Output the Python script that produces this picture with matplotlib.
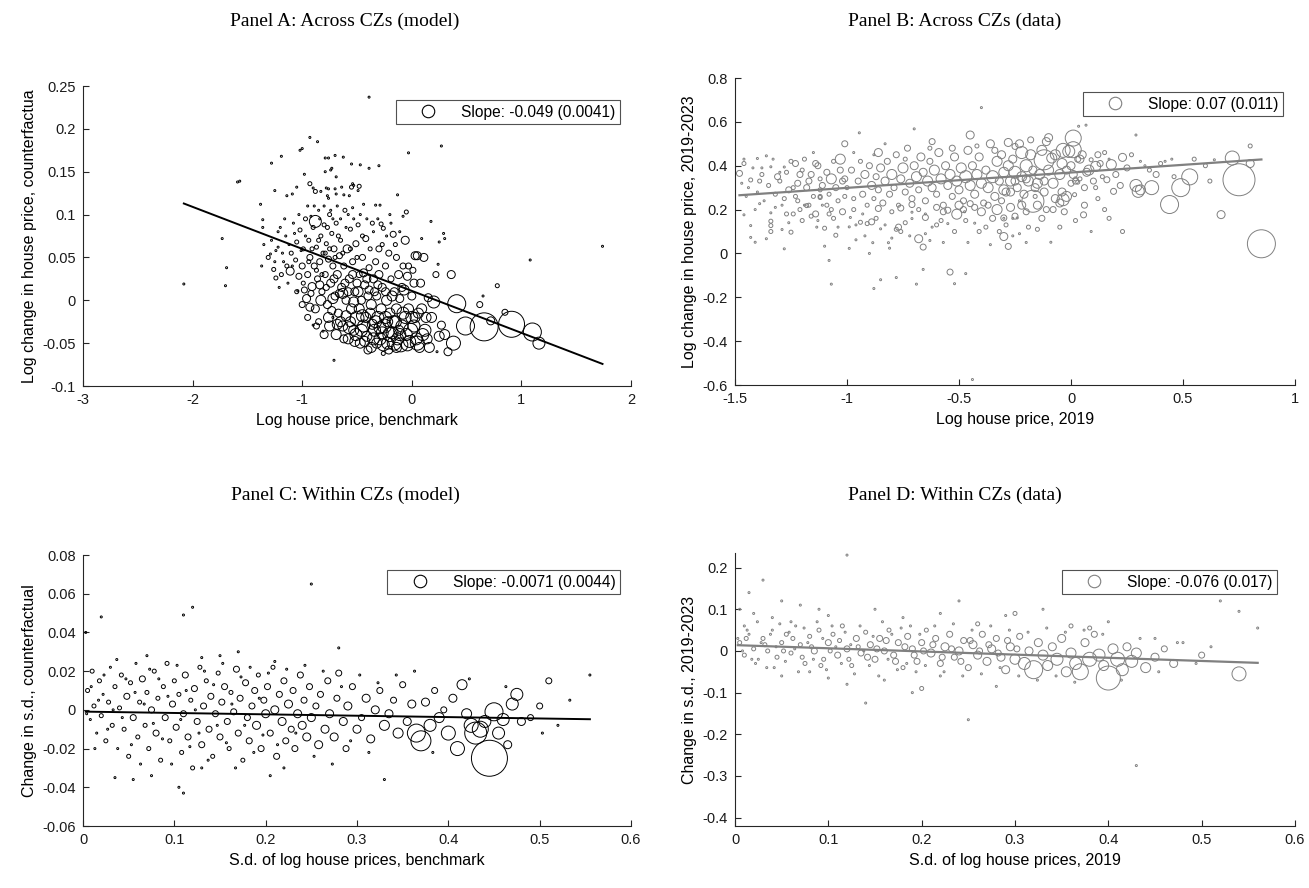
import matplotlib
matplotlib.use("Agg")
import matplotlib.pyplot as plt
import numpy as np
from matplotlib.lines import Line2D

# ---------------- Panel A data (x, y, marker weight) ----------------
ptsA = [
(-2.08,0.019,1),(-1.73,0.072,1),(-1.70,0.017,1),(-1.69,0.038,1),(-1.59,0.138,1),(-1.57,0.139,1),(-1.38,0.112,1),(-1.36,0.094,1),
(-1.36,0.085,1),(-1.37,0.040,1),(-1.35,0.065,1),(-1.29,0.054,1),(-1.28,0.160,1),(-1.25,0.128,1),(-1.24,0.058,1),(-1.24,0.026,2),
(-1.20,0.085,1),(-1.19,0.168,1),(-1.17,0.045,1),(-1.14,0.122,1),(-1.09,0.124,1),(-1.05,0.132,1),(-1.04,0.011,1),(-1.02,0.175,1),
(-1.00,0.177,1),(-0.98,0.147,1),(-0.93,0.190,1),(-0.93,0.136,2),(-0.90,0.131,1),(-0.90,-0.029,1),(-0.88,0.127,2),(-0.86,0.185,1),
(-0.83,0.127,1),(-0.81,-0.036,1),(-0.79,0.166,1),(-0.79,0.150,1),(-0.78,0.131,1),(-0.77,0.122,1),(-0.76,0.166,1),(-0.76,0.130,1),
(-0.76,0.119,1),(-0.74,0.152,1),(-0.73,0.154,1),(-0.72,-0.020,1),(-0.71,-0.070,1),(-0.70,0.169,1),(-0.70,0.130,1),(-0.69,0.144,1),
(-0.69,0.124,1),(-0.64,0.132,1),(-0.625,0.167,1),(-0.62,0.123,1),(-0.57,0.122,1),(-0.55,0.159,1),(-0.55,0.132,2),(-0.54,0.136,1),
(-0.54,0.108,1),(-0.53,0.134,1),(-0.49,0.128,1),(-0.48,0.133,2),(-0.47,0.158,1),(-0.44,0.112,1),(-0.39,0.237,1),(-0.39,0.154,1),
(-0.33,0.111,1),(-0.30,0.157,1),(-0.29,0.111,1),(-0.26,-0.062,2),(-0.20,0.100,1),(-0.13,0.123,1),(-0.11,0.080,1),(-0.08,0.098,1),
(-0.05,0.103,2),(-0.03,0.172,1),(0.09,0.072,1),(0.175,0.092,1),(0.23,-0.060,1),(0.24,0.042,1),(0.25,0.068,1),(0.27,0.180,1),
(0.29,0.078,1),(0.30,0.072,1),(0.65,0.005,1),(0.78,0.017,2),(1.08,0.047,1),(1.74,0.063,1),
(-1.31,0.050,2),(-1.26,0.036,2),(-1.22,0.062,1),(-1.19,0.030,2),(-1.15,0.075,1),(-1.14,0.040,2),(-1.11,0.034,4),(-1.10,0.055,2),
(-1.08,0.090,1),(-1.06,0.047,2),(-1.05,0.068,2),(-1.03,0.028,3),(-1.02,0.082,2),(-1.00,0.040,3),(-0.99,0.060,2),(-0.97,0.095,2),
(-0.96,0.002,4),(-0.95,0.030,3),(-0.94,0.070,2),(-0.93,0.050,3),(-0.91,0.016,4),(-0.90,0.085,2),(-0.89,0.040,3),(-0.88,0.092,6),
(-0.87,0.062,2),(-0.86,0.025,3),(-0.85,0.105,1),(-0.84,0.045,3),(-0.83,0.075,2),(-0.82,0.010,3),(-0.81,0.055,2),(-0.80,0.088,2),
(-0.79,0.030,3),(-0.78,0.066,2),(-0.77,-0.005,4),(-0.76,0.048,3),(-0.75,0.100,2),(-0.74,0.020,4),(-0.73,0.078,2),(-0.72,0.040,3),
(-0.71,0.060,3),(-0.70,0.005,4),(-0.69,0.090,2),(-0.68,0.030,4),(-0.67,-0.015,4),(-0.66,0.052,3),(-0.65,0.070,2),(-0.64,0.015,4),
(-0.63,-0.030,5),(-0.62,0.040,3),(-0.61,0.105,2),(-0.60,0.000,4),(-0.59,0.060,4),(-0.58,-0.045,5),(-0.57,0.025,4),(-0.56,0.083,2),
(-0.55,-0.010,5),(-0.54,0.045,3),(-0.53,-0.035,5),(-0.52,0.010,4),(-0.51,0.066,3),(-0.50,-0.021,7),(-0.49,0.088,2),(-0.48,0.030,3),
(-0.47,-0.050,5),(-0.46,0.000,4),(-0.45,0.050,3),(-0.44,-0.030,6),(-0.43,0.018,4),(-0.42,0.072,3),(-0.41,-0.042,5),(-0.40,0.005,4),
(-0.39,0.038,3),(-0.38,-0.015,5),(-0.37,-0.055,5),(-0.36,0.090,2),(-0.35,0.025,4),(-0.34,-0.035,6),(-0.33,0.045,3),(-0.32,0.005,4),
(-0.31,-0.020,6),(-0.30,0.060,3),(-0.29,-0.045,6),(-0.28,0.089,2),(-0.27,0.015,4),(-0.26,0.084,2),(-0.25,-0.030,7),(-0.24,0.040,3),
(-0.23,0.000,5),(-0.22,-0.050,6),(-0.21,0.055,3),(-0.20,-0.015,5),(-0.19,0.025,3),(-0.18,-0.038,6),(-0.17,0.077,3),(-0.16,0.010,4),
(-0.15,-0.025,6),(-0.14,0.050,3),(-0.13,-0.045,6),(-0.12,0.030,4),(-0.11,0.002,4),(-0.10,-0.052,7),(-0.09,-0.030,6),(-0.08,0.040,3),
(-0.07,0.012,5),(-0.06,0.070,4),(-0.05,-0.040,6),(-0.04,0.028,4),(-0.03,-0.010,5),(-0.02,-0.048,6),(0.00,0.005,4),(0.01,0.035,3),
(0.02,-0.030,6),(0.03,0.052,4),(0.05,0.052,4),(0.06,-0.015,5),(0.07,-0.055,5),(0.08,0.020,4),(0.11,0.050,4),(0.12,-0.035,6),
(0.15,0.003,4),(0.18,-0.020,5),(0.20,-0.002,6),(0.22,0.030,3),(0.25,-0.042,5),(0.27,-0.029,4),(0.36,0.030,4),(0.38,-0.050,7),
(0.41,-0.004,9),(0.49,-0.030,9),(0.62,-0.005,3),(0.66,-0.031,14),(0.72,-0.024,4),(0.85,-0.014,3),(0.91,-0.028,13),(1.10,-0.037,9),
(1.16,-0.050,6),
(-1.00,-0.005,3),(-0.95,-0.020,3),(-0.92,0.008,3),(-0.88,-0.010,4),(-0.85,-0.025,3),(-0.83,0.000,5),(-0.80,-0.040,4),(-0.78,0.015,3),
(-0.75,-0.030,5),(-0.73,-0.012,4),(-0.71,0.025,4),(-0.69,-0.040,5),(-0.66,0.008,4),(-0.65,-0.025,5),(-0.62,-0.045,4),(-0.61,0.020,4),
(-0.58,0.010,4),(-0.56,-0.025,5),(-0.54,0.030,4),(-0.52,-0.048,5),(-0.50,0.020,4),(-0.48,-0.010,5),(-0.46,-0.035,6),(-0.44,0.032,4),
(-0.42,-0.020,5),(-0.40,-0.058,4),(-0.39,0.012,4),(-0.36,-0.028,5),(-0.34,0.010,4),(-0.32,-0.050,5),(-0.30,0.030,4),(-0.28,-0.010,5),
(-0.27,-0.038,6),(-0.24,0.010,4),(-0.22,-0.025,5),(-0.21,-0.058,4),(-0.18,0.005,5),(-0.16,-0.050,7),(-0.14,-0.010,5),(-0.12,-0.035,5),
(-0.09,0.015,4),(-0.06,-0.020,6),(-0.03,0.040,3),(0.00,-0.020,6),(0.02,0.020,4),(0.04,-0.045,6),(0.09,-0.010,5),(0.14,-0.045,5),
(-1.28,0.070,1),(-1.25,0.045,1),(-1.22,0.080,1),(-1.21,0.015,1),(-1.18,0.055,1),(-1.16,0.095,1),(-1.13,0.020,1),(-1.12,0.065,1),
(-1.09,0.040,1),(-1.07,0.078,1),(-1.05,0.010,2),(-1.03,0.100,1),(-1.01,0.058,1),(-0.99,0.020,2),(-0.97,0.075,1),(-0.95,0.110,1),
(-0.94,0.045,2),(-0.92,0.098,1),(-0.91,0.060,2),(-0.89,0.110,1),(-0.87,0.035,2),(-0.85,0.070,2),(-0.84,0.095,1),(-0.82,0.030,2),
(-0.80,0.110,1),(-0.79,0.055,2),(-0.77,0.085,2),(-0.75,0.060,2),(-0.74,0.105,1),(-0.72,0.095,1),(-0.70,0.050,2),(-0.68,0.110,1),
(-0.67,0.075,2),(-0.65,0.095,1),(-0.63,0.055,2),(-0.60,0.085,1),(-0.58,0.100,1),(-0.56,0.060,2),(-0.53,0.095,1),(-0.50,0.050,2),
(-0.47,0.100,1),(-0.45,0.075,2),(-0.41,0.095,1),(-0.38,0.060,2),(-0.35,0.080,1),(-0.31,0.095,1),(-0.27,0.065,2),(-0.23,0.075,1),
(-0.19,0.090,1),(-0.15,0.065,2),
(-0.98,0.012,3),(-0.93,-0.008,4),(-0.87,-0.030,3),(-0.84,0.018,4),(-0.76,-0.020,5),(-0.72,0.002,5),(-0.68,-0.028,5),(-0.63,0.008,5),
(-0.60,-0.018,5),(-0.57,-0.032,6),(-0.53,-0.002,5),(-0.51,-0.040,6),(-0.49,0.010,5),(-0.45,-0.018,6),(-0.43,-0.048,5),(-0.41,0.025,4),
(-0.37,-0.005,5),(-0.35,-0.045,6),(-0.33,-0.025,6),(-0.31,0.018,4),(-0.29,-0.032,6),(-0.26,-0.052,6),(-0.24,-0.020,6),(-0.20,-0.040,7),
(-0.17,-0.025,6),(-0.14,-0.055,5),(-0.11,-0.040,6),(-0.08,-0.015,6),(-0.04,-0.052,6),(-0.01,-0.035,7),(0.03,-0.020,5),(0.05,-0.050,7),
(0.10,-0.040,6),(0.13,-0.020,5),(0.16,-0.055,5),(0.30,-0.040,5),(0.33,-0.060,4),
]
xA = [p[0] for p in ptsA]
yA = [p[1] for p in ptsA]
wA = [p[2] for p in ptsA]
slopeA, interA = -0.049, 0.011
legA = "Slope: -0.049 (0.0041)"

# ---------------- Panel B data ----------------
ptsB = [
(-1.48,0.365,3),(-1.46,0.43,1),(-1.46,0.41,2),(-1.46,0.176,1),(-1.43,0.335,2),(-1.43,0.127,1),(-1.43,0.073,1),(-1.41,0.051,1),
(-1.40,0.433,1),(-1.39,0.227,1),(-1.38,0.39,1),(-1.36,0.445,1),(-1.36,0.067,1),(-1.34,0.395,1),(-1.34,0.185,1),(-1.34,0.147,2),
(-1.34,0.127,2),(-1.34,0.10,2),(-1.31,0.35,3),(-1.30,0.37,1),(-1.29,0.109,1),(-1.28,0.394,1),(-1.28,0.021,1),(-1.27,0.18,2),
(-1.25,0.097,2),(-1.24,0.18,2),(-1.24,0.30,2),(-1.23,0.41,3),(-1.22,0.24,2),(-1.21,0.36,3),(-1.20,0.15,2),(-1.19,0.43,2),
(-1.19,0.22,1),(-1.18,0.218,2),(-1.17,0.33,3),(-1.16,0.17,2),(-1.15,0.46,1),(-1.14,0.41,3),(-1.14,0.18,3),(-1.135,0.12,1),
(-1.12,0.34,2),(-1.12,0.29,2),(-1.12,0.26,2),(-1.12,0.255,2),(-1.11,0.22,1),(-1.10,0.115,2),(-1.10,0.033,1),(-1.08,0.18,2),
(-1.08,-0.032,1),(-1.07,0.34,5),(-1.07,0.20,2),(-1.07,-0.14,1),(-1.05,0.083,2),(-1.03,0.43,5),(-1.02,0.19,3),(-1.01,0.50,3),
(-1.01,0.34,3),(-0.99,0.023,1),(-0.99,0.121,1),(-0.985,0.164,1),(-0.96,0.062,1),(-0.945,0.55,1),(-0.94,0.142,2),(-0.91,0.136,2),
(-0.89,0.144,3),(-0.90,0.0,1),(-0.885,0.049,1),(-0.88,-0.16,1),(-0.86,0.46,4),(-0.86,0.205,3),(-0.85,-0.12,1),(-0.85,0.112,1),
(-0.83,0.50,1),(-0.815,0.049,1),(-0.81,0.024,1),(-0.78,0.11,2),(-0.77,0.12,3),(-0.76,0.10,2),(-0.78,-0.11,1),(-0.76,0.207,3),
(-0.71,0.188,1),(-0.71,0.159,1),(-0.71,0.223,3),(-0.70,0.568,1),(-0.69,-0.14,1),(-0.68,0.067,4),(-0.66,-0.073,1),(-0.66,0.029,3),
(-0.65,0.164,3),(-0.65,0.18,1),(-0.65,0.09,1),(-0.63,0.059,1),(-0.62,0.51,3),(-0.62,0.12,1),(-0.55,0.197,3),(-0.55,0.136,1),
(-0.54,-0.085,3),(-0.52,-0.138,1),(-0.51,0.179,5),(-0.475,0.19,1),(-0.47,-0.092,1),(-0.45,0.54,4),(-0.45,0.227,3),(-0.43,0.138,1),
(-0.40,0.665,1),(-0.30,0.162,3),(-0.30,0.16,1),(-0.30,0.077,4),(-0.28,0.032,3),(-0.26,0.16,1),(-0.24,0.162,1),(-0.23,0.09,1),
(-0.23,0.24,1),(-0.09,0.051,1),(-0.44,-0.575,1),
(0.034,0.58,1),(0.067,0.585,1),(0.29,0.54,1),(0.80,0.49,2),(0.72,0.435,7),(0.80,0.41,4),(0.75,0.336,16),(0.67,0.177,4),
(0.85,0.044,14),(0.64,0.427,1),(0.53,0.349,8),(0.49,0.30,9),(0.44,0.223,9),(0.36,0.30,7),(0.29,0.31,6),(0.30,0.283,6),
(0.31,0.29,5),(0.23,0.438,4),(0.18,0.405,5),(0.23,0.10,2),(0.31,0.42,1),(0.33,0.40,1),(0.42,0.42,1),(0.45,0.43,1),
(0.17,0.43,1),(0.09,0.427,2),(0.11,0.397,5),(0.14,0.35,2),(0.16,0.336,3),(0.11,0.30,2),(0.19,0.283,3),(0.056,0.176,3),
(0.016,0.268,2),(0.00,0.32,3),(0.02,0.33,3),(0.03,0.325,2),(-0.035,0.245,6),(-0.02,0.26,5),(-0.17,0.238,11),(-0.16,0.26,2),
(0.01,0.526,8),(-0.10,0.528,4),(-0.11,0.51,4),(-0.18,0.518,3),(-0.28,0.506,4),(-0.25,0.488,3),(-0.22,0.46,6),(-0.12,0.427,10),
(-0.086,0.435,5),(-0.035,0.47,7),(-0.01,0.465,6),(-0.04,0.41,5),(0.0,0.40,4),(0.03,0.43,3),(0.01,0.473,8),(0.02,0.34,2),
(0.04,0.34,2),(-0.25,0.33,4),(-0.2,0.34,4),(-0.15,0.32,5),(-0.12,0.33,4),(-0.3,0.29,5),(-0.27,0.28,4),
(-1.00,0.30,2),(-0.98,0.38,3),(-0.97,0.25,2),(-0.95,0.33,3),(-0.94,0.42,2),(-0.93,0.27,3),(-0.92,0.36,4),(-0.91,0.22,2),
(-0.90,0.40,3),(-0.89,0.31,4),(-0.88,0.25,2),(-0.87,0.35,3),(-0.86,0.29,3),(-0.85,0.39,4),(-0.84,0.23,3),(-0.83,0.33,4),
(-0.82,0.42,3),(-0.81,0.27,3),(-0.80,0.36,5),(-0.79,0.30,3),(-0.78,0.45,3),(-0.77,0.22,2),(-0.76,0.34,4),(-0.75,0.39,5),
(-0.74,0.28,3),(-0.73,0.48,3),(-0.72,0.32,4),(-0.71,0.25,3),(-0.70,0.40,4),(-0.69,0.35,5),(-0.68,0.29,3),(-0.67,0.44,4),
(-0.66,0.37,4),(-0.65,0.24,3),(-0.64,0.33,5),(-0.63,0.42,3),(-0.62,0.30,4),(-0.61,0.38,5),(-0.60,0.27,3),(-0.59,0.46,4),
(-0.58,0.34,5),(-0.57,0.22,3),(-0.56,0.40,4),(-0.55,0.31,4),(-0.54,0.36,5),(-0.53,0.26,3),(-0.52,0.44,4),(-0.51,0.33,5),
(-0.50,0.29,4),(-0.49,0.39,5),(-0.48,0.24,3),(-0.47,0.35,6),(-0.46,0.47,4),(-0.45,0.31,5),(-0.44,0.40,4),(-0.43,0.27,4),
(-0.42,0.36,5),(-0.41,0.44,4),(-0.40,0.32,5),(-0.39,0.23,3),(-0.38,0.38,4),(-0.37,0.30,5),(-0.36,0.50,4),(-0.35,0.35,6),
(-0.34,0.26,4),(-0.33,0.42,5),(-0.32,0.33,4),(-0.31,0.45,4),(-0.30,0.37,5),(-0.29,0.28,4),(-0.28,0.40,5),(-0.27,0.33,5),
(-0.26,0.43,4),(-0.25,0.37,6),(-0.24,0.30,4),(-0.23,0.50,4),(-0.22,0.35,5),(-0.21,0.27,4),(-0.20,0.40,6),(-0.19,0.33,5),
(-0.18,0.45,5),(-0.17,0.38,4),(-0.16,0.30,4),(-0.14,0.36,5),(-0.13,0.47,5),(-0.12,0.28,4),(-0.10,0.38,5),(-0.08,0.32,5),
(-0.07,0.45,5),(-0.05,0.36,5),(-0.04,0.28,4),(-0.02,0.38,4),(0.01,0.36,4),(0.04,0.43,4),(0.06,0.30,3),(0.08,0.38,5),(0.12,0.45,3),
(-1.44,0.30,1),(-1.42,0.39,1),(-1.40,0.28,1),(-1.38,0.36,2),(-1.37,0.24,1),(-1.35,0.31,2),(-1.33,0.43,1),(-1.32,0.27,2),
(-1.30,0.33,2),(-1.29,0.22,1),(-1.27,0.37,2),(-1.26,0.29,3),(-1.25,0.42,2),(-1.23,0.26,2),(-1.22,0.32,3),(-1.20,0.38,2),
(-1.18,0.30,3),(-1.16,0.36,3),(-1.15,0.26,2),(-1.13,0.40,3),(-1.11,0.31,3),(-1.09,0.37,3),(-1.08,0.27,2),(-1.06,0.42,2),
(-1.05,0.30,3),(-1.04,0.24,2),(-1.03,0.38,3),(-1.02,0.33,3),
(-0.60,0.21,3),(-0.57,0.19,3),(-0.50,0.22,4),(-0.48,0.20,3),(-0.43,0.21,3),(-0.40,0.19,4),(-0.37,0.22,3),(-0.35,0.16,3),
(-0.33,0.20,5),(-0.31,0.24,3),(-0.27,0.21,4),(-0.25,0.17,3),(-0.22,0.22,4),(-0.20,0.19,3),(-0.15,0.22,4),(-0.13,0.16,3),
(-0.08,0.20,3),(-0.05,0.23,4),
(0.05,0.45,4),(0.07,0.37,4),(0.10,0.33,3),(0.13,0.41,3),(0.15,0.46,2),(0.20,0.36,3),(0.22,0.31,3),(0.25,0.39,3),
(0.27,0.45,2),(0.35,0.38,2),(0.38,0.36,3),(0.40,0.41,2),(0.46,0.35,2),(0.55,0.43,2),(0.60,0.40,2),(0.62,0.33,2),
(-0.97,0.46,1),(-0.93,0.18,1),(-0.88,0.45,1),(-0.80,0.19,2),(-0.74,0.43,2),(-0.68,0.20,2),(-0.63,0.48,2),(-0.58,0.15,2),
(-0.53,0.48,3),(-0.47,0.15,2),(-0.42,0.49,2),(-0.38,0.12,2),(-0.34,0.47,3),(-0.29,0.13,2),(-0.19,0.12,2),(-0.11,0.20,3),
(-0.07,0.25,4),(-0.03,0.19,3),(0.06,0.22,3),(0.12,0.25,2),(0.15,0.20,2),(-1.47,0.32,1),(-1.45,0.26,1),(-1.41,0.20,1),
(-1.39,0.33,2),(-1.32,0.21,1),(-1.28,0.25,2),(-1.26,0.14,1),(-1.21,0.20,2),(-1.17,0.22,2),(-1.13,0.15,1),(-1.09,0.22,2),
(-1.06,0.16,2),(-1.04,0.12,1),(-1.01,0.26,2),(-0.97,0.20,2),(-0.96,0.13,1),(-0.92,0.08,1),(-0.87,0.16,2),(-0.83,0.13,1),
(-0.80,0.07,1),(-0.74,0.14,2),(-0.72,0.08,1),(-0.60,0.13,2),(-0.57,0.05,1),(-0.52,0.10,2),(-0.46,0.05,1),(-0.41,0.10,2),
(-0.36,0.04,1),(-0.32,0.10,2),(-0.26,0.08,1),(-0.20,0.05,1),(-0.15,0.11,2),(-0.05,0.12,2),(0.02,0.15,2),(0.09,0.10,1),
(0.17,0.16,2),
]
xB = [p[0] for p in ptsB]
yB = [p[1] for p in ptsB]
wB = [p[2] for p in ptsB]
slopeB, interB = 0.07, 0.369
legB = "Slope: 0.07 (0.011)"

# ---------------- Panel C data ----------------
ptsC = [
(0.003,0.040,1),(0.02,0.048,1),(0.11,0.049,1),(0.12,0.053,1),(0.25,0.065,1),(0.28,0.032,1),(0.15,0.028,1),(0.17,0.030,1),
(0.07,0.028,1),(0.13,0.027,1),(0.21,0.025,1),(0.055,-0.036,1),(0.035,-0.035,1),(0.11,-0.043,1),(0.105,-0.040,1),(0.075,-0.034,1),
(0.13,-0.030,1),(0.22,-0.030,1),(0.33,-0.036,1),(0.205,-0.034,1),(0.52,-0.008,1),(0.555,0.018,1),
(0.005,0.010,2),(0.008,-0.005,1),(0.01,0.020,2),(0.012,0.002,2),(0.015,-0.012,1),(0.018,0.015,2),(0.02,-0.003,2),(0.022,0.008,1),
(0.025,-0.016,2),(0.028,0.004,2),(0.03,0.022,1),(0.032,-0.008,2),(0.035,0.012,2),(0.038,-0.020,1),(0.04,0.001,2),(0.042,0.018,2),
(0.045,-0.010,2),(0.048,0.007,3),(0.05,-0.024,2),(0.052,0.014,2),(0.055,-0.004,3),(0.058,0.024,1),(0.06,-0.014,2),(0.062,0.004,2),
(0.065,0.016,3),(0.068,-0.008,2),(0.07,0.009,2),(0.072,-0.020,2),(0.075,0.000,3),(0.078,0.020,2),(0.08,-0.012,3),(0.082,0.006,2),
(0.085,-0.026,2),(0.088,0.012,2),(0.09,-0.004,3),(0.092,0.024,2),(0.095,-0.016,2),(0.098,0.003,3),(0.10,0.015,2),(0.102,-0.009,3),
(0.105,0.008,2),(0.108,-0.022,2),(0.11,-0.002,3),(0.112,0.018,3),(0.115,-0.014,3),(0.118,0.005,2),(0.12,-0.030,2),(0.122,0.011,3),
(0.125,-0.006,3),(0.128,0.022,2),(0.13,-0.018,3),(0.132,0.002,3),(0.135,0.015,2),(0.138,-0.010,3),(0.14,0.007,3),(0.142,-0.024,2),
(0.145,-0.002,3),(0.148,0.019,2),(0.15,-0.014,3),(0.152,0.004,3),(0.155,0.012,3),(0.158,-0.006,3),(0.16,-0.020,2),(0.162,0.009,2),
(0.165,-0.001,3),(0.168,0.021,3),(0.17,-0.012,3),(0.172,0.006,3),(0.175,-0.026,2),(0.178,0.014,3),(0.18,-0.004,3),(0.182,-0.016,3),
(0.185,0.002,3),(0.188,0.010,3),(0.19,-0.008,4),(0.192,0.018,2),(0.195,-0.020,3),(0.198,0.005,3),(0.20,-0.002,4),(0.202,0.012,3),
(0.205,-0.012,3),(0.208,0.022,2),(0.21,0.000,4),(0.212,-0.024,3),(0.215,0.008,3),(0.218,-0.006,4),(0.22,0.015,3),(0.222,-0.016,3),
(0.225,0.003,4),(0.228,-0.010,3),(0.23,0.010,3),(0.232,-0.020,3),(0.235,-0.002,4),(0.238,0.018,3),(0.24,-0.008,4),(0.242,0.005,3),
(0.245,-0.014,4),(0.248,0.012,3),(0.25,-0.004,4),(0.255,0.002,3),(0.258,-0.018,4),(0.26,0.008,3),(0.265,-0.010,4),(0.268,0.015,3),
(0.27,-0.002,4),(0.275,-0.014,4),(0.278,0.006,3),(0.28,0.019,3),(0.285,-0.006,4),(0.288,-0.020,3),(0.29,0.002,4),(0.295,0.012,3),
(0.30,-0.010,4),(0.305,-0.004,3),(0.31,0.006,4),(0.315,-0.015,4),(0.32,0.000,4),(0.325,0.010,3),(0.33,-0.008,5),(0.335,-0.002,4),
(0.34,0.005,3),(0.345,-0.012,5),(0.35,0.013,3),(0.355,-0.006,4),(0.36,0.003,4),(0.365,-0.012,9),(0.37,-0.016,10),(0.375,0.004,4),
(0.38,-0.008,6),(0.385,0.010,3),(0.39,-0.004,5),(0.395,0.000,3),(0.40,-0.012,7),(0.405,0.006,4),(0.41,-0.020,7),(0.415,0.013,5),
(0.42,-0.002,5),(0.425,-0.008,7),(0.43,-0.012,11),(0.435,-0.010,8),(0.44,-0.006,6),(0.445,-0.025,18),(0.45,-0.001,9),(0.455,-0.012,6),
(0.46,-0.005,6),(0.465,-0.018,4),(0.47,0.003,6),(0.475,0.008,6),(0.48,-0.006,4),(0.49,-0.004,3),(0.50,0.002,3),(0.51,0.015,3),
(0.004,-0.002,1),(0.009,0.012,1),(0.013,-0.020,1),(0.017,0.005,1),(0.023,0.018,1),(0.027,-0.010,1),(0.033,0.000,1),(0.037,0.026,1),
(0.043,-0.004,1),(0.047,0.016,1),(0.053,-0.018,1),(0.057,0.009,1),(0.063,-0.028,1),(0.067,0.003,1),(0.073,0.021,1),(0.077,-0.007,1),
(0.083,0.016,1),(0.087,-0.015,1),(0.093,0.007,1),(0.097,-0.028,1),(0.103,0.023,1),(0.107,-0.005,1),(0.113,0.010,1),(0.117,-0.019,1),
(0.123,0.000,1),(0.127,-0.012,1),(0.133,0.020,1),(0.137,-0.026,1),(0.143,0.013,1),(0.147,-0.008,1),(0.153,0.024,1),(0.157,-0.017,1),
(0.163,0.003,1),(0.167,-0.030,1),(0.173,0.017,1),(0.177,-0.008,1),(0.183,0.022,1),(0.187,-0.022,1),(0.193,0.006,1),(0.197,-0.013,1),
(0.203,0.019,1),(0.213,-0.018,1),(0.223,0.021,1),(0.233,-0.012,1),(0.243,0.023,1),(0.253,-0.024,1),(0.263,0.020,1),(0.273,-0.028,1),
(0.283,0.012,1),(0.293,-0.016,1),(0.303,0.018,1),(0.313,-0.022,1),(0.323,0.014,1),(0.343,0.018,1),(0.363,0.020,1),(0.383,-0.022,1),
(0.423,0.016,1),(0.463,0.012,1),(0.503,-0.012,1),(0.533,0.005,1),
]
xC = [p[0] for p in ptsC]
yC = [p[1] for p in ptsC]
wC = [p[2] for p in ptsC]
slopeC, interC = -0.0071, -0.0009
legC = "Slope: -0.0071 (0.0044)"

# ---------------- Panel D data ----------------
ptsD = [
(0.12,0.23,1),(0.03,0.17,1),(0.015,0.14,1),(0.05,0.12,1),(0.07,0.11,1),(0.24,0.12,1),(0.25,-0.165,1),(0.43,-0.275,1),
(0.52,0.12,1),(0.54,0.095,1),(0.56,0.055,1),(0.29,0.085,1),(0.30,0.09,2),(0.33,0.10,1),(0.14,-0.125,1),(0.19,-0.10,1),
(0.20,-0.09,2),(0.28,-0.085,1),(0.12,-0.08,1),(0.005,0.10,1),(0.01,0.06,1),(0.02,0.09,1),(0.04,0.08,1),(0.06,0.07,1),
(0.09,0.10,1),(0.10,0.085,1),(0.15,0.10,1),(0.18,0.08,1),(0.22,0.09,1),(0.26,0.065,2),(0.36,0.06,2),(0.38,0.055,2),
(0.40,0.07,1),(0.45,0.03,1),(0.48,0.02,1),(0.05,-0.06,1),(0.08,-0.05,1),(0.10,-0.065,1),(0.16,-0.07,1),(0.22,-0.06,1),
(0.005,0.02,2),(0.01,-0.01,2),(0.015,0.04,1),(0.02,0.005,2),(0.025,-0.02,1),(0.03,0.03,2),(0.035,0.0,2),(0.04,0.05,1),
(0.045,-0.015,2),(0.05,0.02,2),(0.055,0.04,2),(0.06,-0.005,2),(0.065,0.06,1),(0.07,0.015,2),(0.075,-0.03,2),(0.08,0.035,2),
(0.085,0.0,3),(0.09,0.05,2),(0.095,-0.02,2),(0.10,0.02,3),(0.105,0.04,2),(0.11,-0.01,3),(0.115,0.06,2),(0.12,0.005,3),
(0.125,-0.035,2),(0.13,0.03,3),(0.135,-0.005,3),(0.14,0.045,2),(0.145,0.015,3),(0.15,-0.02,3),(0.155,0.03,3),(0.16,0.0,3),
(0.165,0.05,2),(0.17,-0.01,3),(0.175,0.02,3),(0.18,-0.04,2),(0.185,0.035,3),(0.19,0.005,3),(0.195,-0.025,3),(0.20,0.02,3),
(0.205,0.05,2),(0.21,-0.005,4),(0.215,0.03,3),(0.22,-0.03,3),(0.225,0.01,4),(0.23,0.04,3),(0.235,-0.015,3),(0.24,0.0,4),
(0.245,0.025,3),(0.25,-0.04,3),(0.255,0.015,4),(0.26,-0.01,4),(0.265,0.04,3),(0.27,-0.025,4),(0.275,0.005,4),(0.28,0.03,3),
(0.285,-0.015,4),(0.29,-0.045,4),(0.295,0.01,4),(0.30,-0.02,5),(0.305,0.035,3),(0.31,-0.03,6),(0.315,0.0,4),(0.32,-0.045,9),
(0.325,0.02,4),(0.33,-0.01,5),(0.335,-0.035,5),(0.34,0.01,4),(0.345,-0.02,6),(0.35,0.03,4),(0.355,-0.05,5),(0.36,-0.005,5),
(0.365,-0.03,6),(0.37,-0.05,8),(0.375,0.02,4),(0.38,-0.02,7),(0.385,0.04,3),(0.39,-0.01,6),(0.395,-0.035,5),(0.40,-0.065,12),
(0.405,0.005,5),(0.41,-0.02,7),(0.415,-0.045,6),(0.42,0.01,4),(0.425,-0.025,6),(0.43,-0.005,5),(0.44,-0.04,5),(0.45,-0.015,4),
(0.46,0.005,3),(0.47,-0.03,4),(0.54,-0.055,7),(0.50,-0.01,3),
(0.012,0.03,2),(0.022,-0.03,1),(0.032,0.015,2),(0.042,-0.04,1),(0.052,0.0,2),(0.062,0.03,2),(0.072,-0.015,2),(0.082,0.01,2),
(0.092,-0.035,2),(0.102,0.0,2),(0.112,0.025,2),(0.122,-0.02,2),(0.132,0.01,2),(0.142,-0.015,3),(0.152,0.005,3),(0.162,0.025,3),
(0.172,-0.025,3),(0.182,0.01,3),(0.192,-0.01,3),(0.202,0.0,3),(0.212,0.015,3),(0.222,-0.015,3),(0.232,0.005,3),(0.242,-0.025,3),
(0.252,0.025,3),(0.262,0.0,3),(0.272,0.015,3),(0.282,-0.005,3),(0.292,0.025,3),(0.302,0.005,3),
(0.003,0.03,1),(0.008,0.0,1),(0.013,0.05,1),(0.018,-0.02,1),(0.024,0.07,1),(0.028,0.02,1),(0.034,-0.04,1),(0.038,0.04,1),
(0.044,0.01,1),(0.048,0.065,1),(0.054,-0.025,1),(0.058,0.045,1),(0.064,0.005,1),(0.068,-0.05,1),(0.074,0.055,1),(0.078,0.02,1),
(0.084,-0.02,1),(0.088,0.07,1),(0.094,0.03,1),(0.098,-0.045,1),(0.104,0.06,1),(0.108,0.01,1),(0.114,-0.03,1),(0.118,0.045,1),
(0.124,0.015,1),(0.128,-0.055,1),(0.134,0.06,1),(0.138,0.0,1),(0.144,-0.035,1),(0.148,0.035,1),(0.154,-0.06,1),(0.158,0.07,1),
(0.164,-0.02,1),(0.168,0.04,1),(0.174,-0.045,1),(0.178,0.055,1),(0.184,-0.03,1),(0.188,0.06,1),(0.194,-0.05,1),(0.198,0.04,1),
(0.204,-0.035,1),(0.214,0.06,1),(0.224,-0.05,1),(0.234,0.065,1),(0.244,-0.06,1),(0.254,0.05,1),(0.264,-0.055,1),(0.274,0.06,1),
(0.284,-0.04,1),(0.294,0.05,1),(0.304,-0.06,1),(0.314,0.045,1),(0.324,-0.07,1),(0.334,0.055,1),(0.344,-0.06,1),(0.354,0.045,1),
(0.364,-0.075,1),(0.374,0.05,1),(0.394,0.04,1),(0.414,-0.07,1),(0.434,0.03,1),(0.454,-0.05,1),(0.474,0.02,1),(0.494,-0.03,1),
(0.51,0.01,1),
]
xD = [p[0] for p in ptsD]
yD = [p[1] for p in ptsD]
wD = [p[2] for p in ptsD]
slopeD, interD = -0.076, 0.014
legD = "Slope: -0.076 (0.017)"

# ---------------- drawing ----------------
W, H = 1309, 888
fig = plt.figure(figsize=(W/100, H/100), dpi=100)

TICKFONT = "Liberation Sans"
TITLEFONT = "Liberation Serif"
AXCOL = (0.15, 0.15, 0.15)

def px_axes(l, t, r, b):
    return fig.add_axes([l/W, 1-b/H, (r-l)/W, (b-t)/H])

def size_of(w):
    return [(1.44*v)**2 for v in w]

def style(ax):
    for s in ["top", "right"]:
        ax.spines[s].set_visible(False)
    for s in ["left", "bottom"]:
        ax.spines[s].set_color(AXCOL)
        ax.spines[s].set_linewidth(0.8)
    ax.tick_params(direction="in", length=4, width=0.8, color=AXCOL,
                   labelsize=10.5, labelcolor=(0.1, 0.1, 0.1), pad=5)
    for lab in ax.get_xticklabels() + ax.get_yticklabels():
        lab.set_fontfamily(TICKFONT)

def panel(ax, x, y, w, slope, inter, col, leg, lw, anchor):
    ax.scatter(x, y, s=size_of(w), facecolors="none", edgecolors=col, linewidths=0.7, zorder=2)
    xs = np.array([min(x), max(x)])
    ax.plot(xs, inter + slope*xs, color=col, lw=lw, zorder=3)
    h = Line2D([], [], marker="o", ls="none", mfc="none", mec=col, ms=9, mew=0.8)
    lg = ax.legend([h], [leg], loc="upper right", bbox_to_anchor=anchor, borderaxespad=0,
                   frameon=True, fancybox=False, handlelength=3.6, handletextpad=0.3,
                   borderpad=0.3, prop={"family": TICKFONT, "size": 11.2})
    lg.get_frame().set_edgecolor(AXCOL)
    lg.get_frame().set_linewidth(0.8)

axA = px_axes(83, 86, 631, 386)
panel(axA, xA, yA, wA, slopeA, interA, "black", legA, 1.4, ((620-83)/548, (386-100)/300))
axA.set_xlim(-3, 2); axA.set_ylim(-0.1, 0.25)
axA.set_xticks([-3, -2, -1, 0, 1, 2])
axA.set_yticks([-0.1, -0.05, 0, 0.05, 0.1, 0.15, 0.2, 0.25])
axA.set_yticklabels(["-0.1", "-0.05", "0", "0.05", "0.1", "0.15", "0.2", "0.25"])
axA.set_xticklabels(["-3", "-2", "-1", "0", "1", "2"])
style(axA)
axA.set_xlabel("Log house price, benchmark", fontfamily=TICKFONT, fontsize=11.5)
axA.set_ylabel("Log change in house price, counterfactua", fontfamily=TICKFONT, fontsize=11.5)

gray = (0.5, 0.5, 0.5)
axB = px_axes(735, 78, 1295, 385)
panel(axB, xB, yB, wB, slopeB, interB, gray, legB, 1.6, ((1283-735)/560, (385-92)/307))
axB.set_xlim(-1.5, 1); axB.set_ylim(-0.6, 0.8)
axB.set_xticks([-1.5, -1, -0.5, 0, 0.5, 1])
axB.set_xticklabels(["-1.5", "-1", "-0.5", "0", "0.5", "1"])
axB.set_yticks([-0.6, -0.4, -0.2, 0, 0.2, 0.4, 0.6, 0.8])
axB.set_yticklabels(["-0.6", "-0.4", "-0.2", "0", "0.2", "0.4", "0.6", "0.8"])
style(axB)
axB.set_xlabel("Log house price, 2019", fontfamily=TICKFONT, fontsize=11.5)
axB.set_ylabel("Log change in house price, 2019-2023", fontfamily=TICKFONT, fontsize=11.5)

axC = px_axes(83, 555, 631, 826)
panel(axC, xC, yC, wC, slopeC, interC, "black", legC, 1.4, ((620-83)/548, (826-570)/271))
axC.set_xlim(0, 0.6); axC.set_ylim(-0.06, 0.08)
axC.set_xticks([0, 0.1, 0.2, 0.3, 0.4, 0.5, 0.6])
axC.set_xticklabels(["0", "0.1", "0.2", "0.3", "0.4", "0.5", "0.6"])
axC.set_yticks([-0.06, -0.04, -0.02, 0, 0.02, 0.04, 0.06, 0.08])
axC.set_yticklabels(["-0.06", "-0.04", "-0.02", "0", "0.02", "0.04", "0.06", "0.08"])
style(axC)
axC.set_xlabel("S.d. of log house prices, benchmark", fontfamily=TICKFONT, fontsize=11.5)
axC.set_ylabel("Change in s.d., counterfactual", fontfamily=TICKFONT, fontsize=11.5)

axD = px_axes(735, 553, 1295, 826)
panel(axD, xD, yD, wD, slopeD, interD, gray, legD, 1.6, ((1277-735)/560, (826-570)/273))
axD.set_xlim(0, 0.6); axD.set_ylim(-0.42, 0.235)
axD.set_xticks([0, 0.1, 0.2, 0.3, 0.4, 0.5, 0.6])
axD.set_xticklabels(["0", "0.1", "0.2", "0.3", "0.4", "0.5", "0.6"])
axD.set_yticks([-0.4, -0.3, -0.2, -0.1, 0, 0.1, 0.2])
axD.set_yticklabels(["-0.4", "-0.3", "-0.2", "-0.1", "0", "0.1", "0.2"])
style(axD)
axD.set_xlabel("S.d. of log house prices, 2019", fontfamily=TICKFONT, fontsize=11.5)
axD.set_ylabel("Change in s.d., 2019-2023", fontfamily=TICKFONT, fontsize=11.5)

titles = [("Panel A: Across CZs (model)", 345, 21), ("Panel B: Across CZs (data)", 955, 21),
          ("Panel C: Within CZs (model)", 345, 495), ("Panel D: Within CZs (data)", 955, 495)]
for t, cx, cy in titles:
    fig.text(cx/W, 1-cy/H, t, ha="center", va="center", fontfamily=TITLEFONT, fontsize=14)

fig.savefig("out.png", dpi=100)
